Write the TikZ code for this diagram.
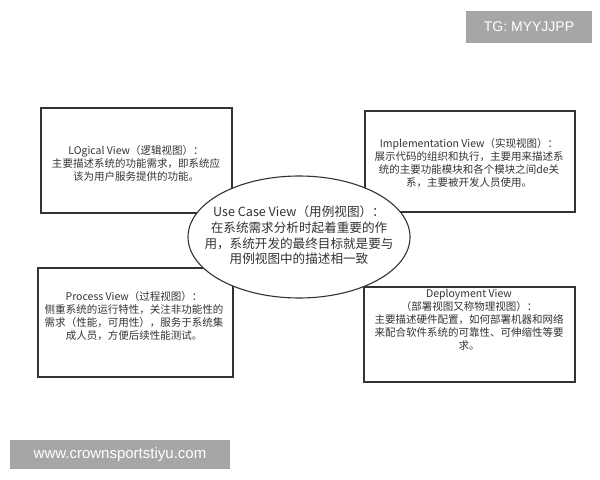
\documentclass[tikz,border=0pt]{standalone}
\usepackage{fontspec}
\setmainfont{Noto Sans CJK SC}
\newfontfamily\markfont{Liberation Sans}
\usetikzlibrary{shapes.geometric}
\definecolor{ink}{HTML}{333333}
\definecolor{markgray}{HTML}{A6A6A6}

\begin{document}
\begin{tikzpicture}[x=1bp, y=-1bp,
  viewbox/.style={draw=ink, line width=1.1bp, inner sep=0},
  viewtext/.style={text=ink, align=center, inner sep=0, font=\fontsize{10.5bp}{13bp}\selectfont},
  markbox/.style={fill=markgray, text=white, inner sep=0, font=\markfont\fontsize{14bp}{16bp}\selectfont}]
\useasboundingbox (0,0) rectangle (600,480);
\node[viewbox, minimum width=191bp, minimum height=105bp] (logical) at (136.5,160.5) {};
\node[viewbox, minimum width=210bp, minimum height=101bp] (impl) at (470,161.5) {};
\node[viewbox, minimum width=195bp, minimum height=109bp] (process) at (135.5,322.5) {};
\node[viewbox, minimum width=211bp, minimum height=95bp] (deploy) at (469.5,334.5) {};
\node[viewtext] (logicaltext) at (136,163) {LOgical View（逻辑视图）：\\主要描述系统的功能需求，即系统应\\该为用户服务提供的功能。};
\node[viewtext] (impltext) at (469,163) {Implementation View（实现视图）：\\展示代码的组织和执行，主要用来描述系\\统的主要功能模块和各个模块之间de关\\系，主要被开发人员使用。};
\node[viewtext] (processtext) at (134,316.5) {Process View（过程视图）：\\侧重系统的运行特性，关注非功能性的\\需求（性能，可用性），服务于系统集\\成人员，方便后续性能测试。};
\node[viewtext] (deploytext) at (469,320) {Deployment View\\（部署视图又称物理视图）：\\主要描述硬件配置，如何部署机器和网络\\来配合软件系统的可靠性、可伸缩性等要\\求。};
\node[ellipse, draw=ink, line width=1.1bp, fill=white, minimum width=222bp, minimum height=122bp, inner sep=0] (usecase) at (299,237) {};
\node[viewtext, font=\fontsize{12.6bp}{15.6bp}\selectfont] (usecasetext) at (299,235.5) {Use Case View（用例视图）：\\在系统需求分析时起着重要的作\\用，系统开发的最终目标就是要与\\用例视图中的描述相一致};
\node[markbox, minimum width=126bp, minimum height=32bp] (tag) at (529,27) {TG: MYYJJPP};
\node[markbox, minimum width=220bp, minimum height=29bp, font=\markfont\fontsize{15bp}{17bp}\selectfont] (site) at (120,454.5) {www.crownsportstiyu.com};
\end{tikzpicture}
\end{document}
